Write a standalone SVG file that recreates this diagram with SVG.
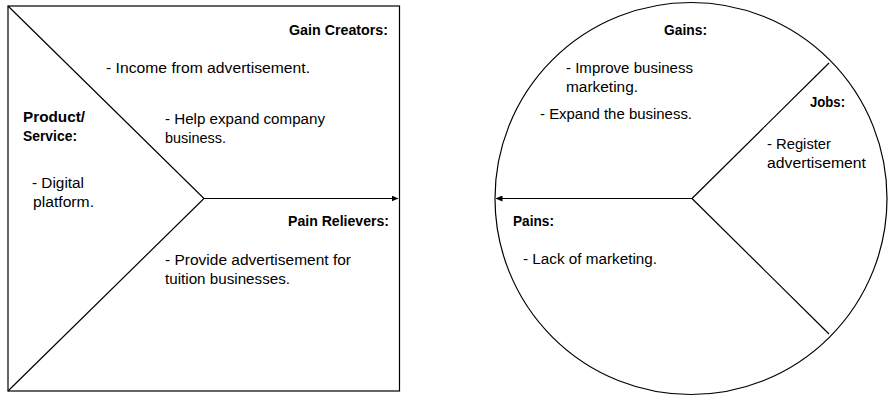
<svg xmlns="http://www.w3.org/2000/svg" width="896" height="401" viewBox="0 0 896 401">
  <style>
    .ln{fill:none;stroke:#000;stroke-width:1.2}
    text{font-family:"Liberation Sans",Arial,sans-serif;font-size:14px;fill:#000}
    .b{font-weight:bold}
  </style>
  <defs>
    <marker id="ah" markerWidth="7" markerHeight="6" refX="6.5" refY="3" orient="auto" markerUnits="userSpaceOnUse">
      <path d="M0,0 L7,3 L0,6 Z" fill="#000"/>
    </marker>
  </defs>
  <rect width="896" height="401" fill="#fff"/>
  <g id="value-map">
    <rect class="ln" x="8" y="6" width="391.5" height="385"/>
  </g>
  <g id="customer-profile">
    <circle class="ln" cx="691" cy="198.5" r="196"/>
  </g>
  <g id="connectors">
    <polyline class="ln" points="8,6 204,198.5 8,391"/>
    <line class="ln" x1="204" y1="198.5" x2="398" y2="198.5" marker-end="url(#ah)"/>
    <line class="ln" x1="692" y1="198.5" x2="829" y2="63"/>
    <line class="ln" x1="692" y1="198.5" x2="829" y2="334"/>
    <line class="ln" x1="692" y1="198.5" x2="496" y2="198.5" marker-end="url(#ah)"/>
  </g>
  <g id="gain-creators">
    <text class="b" x="289" y="35" textLength="99" lengthAdjust="spacingAndGlyphs">Gain Creators:</text>
    <text x="106" y="73" textLength="204" lengthAdjust="spacingAndGlyphs">- Income from advertisement.</text>
    <text x="165" y="124" textLength="160" lengthAdjust="spacingAndGlyphs">- Help expand company</text>
    <text x="165" y="143" textLength="61" lengthAdjust="spacingAndGlyphs">business.</text>
  </g>
  <g id="product-service">
    <text class="b" x="23" y="122" textLength="62" lengthAdjust="spacingAndGlyphs">Product/</text>
    <text class="b" x="23" y="141" textLength="54" lengthAdjust="spacingAndGlyphs">Service:</text>
    <text x="32" y="188" textLength="52" lengthAdjust="spacingAndGlyphs">- Digital</text>
    <text x="33" y="207" textLength="61" lengthAdjust="spacingAndGlyphs">platform.</text>
  </g>
  <g id="pain-relievers">
    <text class="b" x="288" y="226" textLength="101" lengthAdjust="spacingAndGlyphs">Pain Relievers:</text>
    <text x="165" y="265" textLength="186" lengthAdjust="spacingAndGlyphs">- Provide advertisement for</text>
    <text x="165" y="284" textLength="125" lengthAdjust="spacingAndGlyphs">tuition businesses.</text>
  </g>
  <g id="gains">
    <text class="b" x="664" y="35" textLength="43" lengthAdjust="spacingAndGlyphs">Gains:</text>
    <text x="566" y="73" textLength="127" lengthAdjust="spacingAndGlyphs">- Improve business</text>
    <text x="566" y="92" textLength="72" lengthAdjust="spacingAndGlyphs">marketing.</text>
    <text x="540" y="119" textLength="152" lengthAdjust="spacingAndGlyphs">- Expand the business.</text>
  </g>
  <g id="jobs">
    <text class="b" x="810" y="107" textLength="35" lengthAdjust="spacingAndGlyphs">Jobs:</text>
    <text x="767" y="149" textLength="64" lengthAdjust="spacingAndGlyphs">- Register</text>
    <text x="767" y="168" textLength="99" lengthAdjust="spacingAndGlyphs">advertisement</text>
  </g>
  <g id="pains">
    <text class="b" x="513" y="226" textLength="41" lengthAdjust="spacingAndGlyphs">Pains:</text>
    <text x="523" y="264" textLength="134" lengthAdjust="spacingAndGlyphs">- Lack of marketing.</text>
  </g>
</svg>
